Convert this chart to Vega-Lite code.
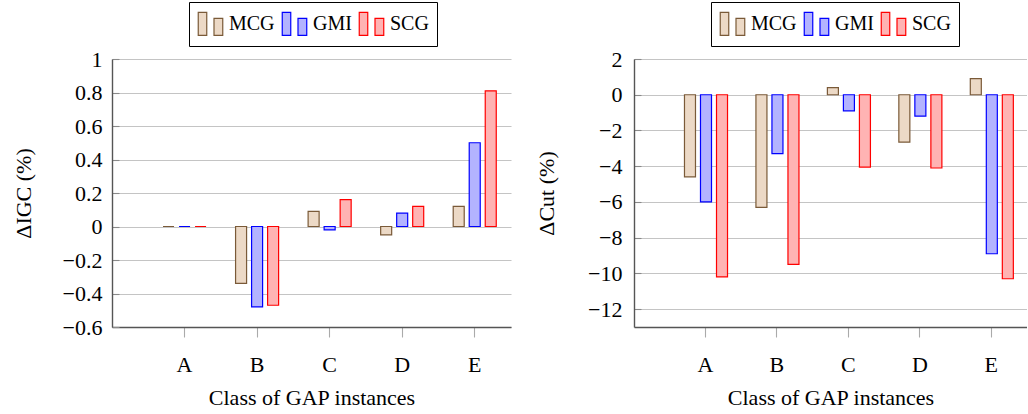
{
  "$schema": "https://vega.github.io/schema/vega-lite/v6.json",
  "autosize": {"type": "pad"},
  "padding": {"left": 12, "top": 1, "right": 0, "bottom": 5},
  "background": "white",
  "spacing": 123,
  "bounds": "flush",
  "datasets": {
    "igc": [
      {"cls": "A", "method": "MCG", "v": 0},
      {"cls": "A", "method": "GMI", "v": 0},
      {"cls": "A", "method": "SCG", "v": 0},
      {"cls": "B", "method": "MCG", "v": -0.34},
      {"cls": "B", "method": "GMI", "v": -0.48},
      {"cls": "B", "method": "SCG", "v": -0.47},
      {"cls": "C", "method": "MCG", "v": 0.09},
      {"cls": "C", "method": "GMI", "v": -0.02},
      {"cls": "C", "method": "SCG", "v": 0.16},
      {"cls": "D", "method": "MCG", "v": -0.05},
      {"cls": "D", "method": "GMI", "v": 0.08},
      {"cls": "D", "method": "SCG", "v": 0.12},
      {"cls": "E", "method": "MCG", "v": 0.12},
      {"cls": "E", "method": "GMI", "v": 0.5},
      {"cls": "E", "method": "SCG", "v": 0.81}
    ],
    "cut": [
      {"cls": "A", "method": "MCG", "v": -4.6},
      {"cls": "A", "method": "GMI", "v": -6.0},
      {"cls": "A", "method": "SCG", "v": -10.2},
      {"cls": "B", "method": "MCG", "v": -6.3},
      {"cls": "B", "method": "GMI", "v": -3.3},
      {"cls": "B", "method": "SCG", "v": -9.5},
      {"cls": "C", "method": "MCG", "v": 0.4},
      {"cls": "C", "method": "GMI", "v": -0.9},
      {"cls": "C", "method": "SCG", "v": -4.05},
      {"cls": "D", "method": "MCG", "v": -2.65},
      {"cls": "D", "method": "GMI", "v": -1.2},
      {"cls": "D", "method": "SCG", "v": -4.1},
      {"cls": "E", "method": "MCG", "v": 0.9},
      {"cls": "E", "method": "GMI", "v": -8.9},
      {"cls": "E", "method": "SCG", "v": -10.3}
    ]
  },
  "config": {
    "font": "Liberation Serif",
    "view": {"stroke": null},
    "style": {
      "guide-label": {"font": "Liberation Serif", "fontSize": 22, "fill": "black"},
      "guide-title": {"font": "Liberation Serif", "fontSize": 22, "fontWeight": "normal", "fill": "black"}
    },
    "legend": {
      "orient": "none",
      "direction": "horizontal",
      "title": null,
      "strokeColor": "black",
      "padding": 8,
      "symbolType": "M-0.98,-0.92H-0.3V0.92H-0.98ZM0.28,-0.44H0.98V0.92H0.28Z",
      "symbolSize": 625,
      "symbolStrokeWidth": 1.2,
      "labelFont": "Liberation Serif",
      "labelFontSize": 20,
      "labelColor": "black",
      "labelOffset": 5,
      "columnPadding": 4
    }
  },
  "hconcat": [
    {
      "width": 399,
      "height": 268,
      "data": {"name": "igc"},
      "mark": {"type": "bar", "strokeWidth": 1.2},
      "encoding": {
        "x": {
          "field": "cls", "type": "nominal",
          "scale": {"domain": ["A", "B", "C", "D", "E"], "paddingInner": 0, "paddingOuter": 0.25, "align": 1},
          "axis": {"title": "Class of GAP instances", "grid": false, "labelAngle": 0, "labelFont": "Liberation Serif", "labelFontSize": 22, "labelColor": "black", "titleFont": "Liberation Serif", "titleFontSize": 22, "titleFontWeight": "normal", "titleColor": "black", "domainColor": "#555555", "domainWidth": 1.4, "tickColor": "#aaaaaa", "tickSize": 10, "tickWidth": 1.1, "labelPadding": 17, "titlePadding": 12}
        },
        "xOffset": {
          "field": "method", "type": "nominal",
          "scale": {"domain": ["MCG", "GMI", "SCG"], "paddingInner": 0.3125, "paddingOuter": 0.921}
        },
        "y": {
          "field": "v", "type": "quantitative",
          "scale": {"domain": [-0.6, 1], "nice": false},
          "axis": {"title": "ΔIGC (%)", "values": [-0.6, -0.4, -0.2, 0, 0.2, 0.4, 0.6, 0.8, 1], "format": ".1~f", "grid": true, "gridColor": "#c4c4c4", "gridWidth": 1.1, "ticks": true, "tickSize": -7, "tickColor": "#8a8a8a", "tickWidth": 1.1, "labelPadding": 17, "titlePadding": 27, "labelFont": "Liberation Serif", "labelFontSize": 22, "labelColor": "black", "titleFont": "Liberation Serif", "titleFontSize": 22, "titleFontWeight": "normal", "titleColor": "black", "domainColor": "#555555", "domainWidth": 1.4}
        },
        "fill": {
          "field": "method", "type": "nominal",
          "scale": {"domain": ["MCG", "GMI", "SCG"], "range": ["#ecd9c6", "#b3b3ff", "#ffb3b3"]},
          "legend": {"legendX": 77, "legendY": -57}
        },
        "stroke": {
          "field": "method", "type": "nominal",
          "scale": {"domain": ["MCG", "GMI", "SCG"], "range": ["#7a5a38", "#0000ff", "#ff0000"]},
          "legend": {"legendX": 77, "legendY": -57}
        }
      }
    },
    {
      "width": 393,
      "height": 268,
      "data": {"name": "cut"},
      "mark": {"type": "bar", "strokeWidth": 1.2},
      "encoding": {
        "x": {
          "field": "cls", "type": "nominal",
          "scale": {"domain": ["A", "B", "C", "D", "E"], "paddingInner": 0, "paddingOuter": 0.25, "align": 1},
          "axis": {"title": "Class of GAP instances", "grid": false, "labelAngle": 0, "labelFont": "Liberation Serif", "labelFontSize": 22, "labelColor": "black", "titleFont": "Liberation Serif", "titleFontSize": 22, "titleFontWeight": "normal", "titleColor": "black", "domainColor": "#555555", "domainWidth": 1.4, "tickColor": "#aaaaaa", "tickSize": 10, "tickWidth": 1.1, "labelPadding": 17, "titlePadding": 12}
        },
        "xOffset": {
          "field": "method", "type": "nominal",
          "scale": {"domain": ["MCG", "GMI", "SCG"], "paddingInner": 0.3125, "paddingOuter": 0.921}
        },
        "y": {
          "field": "v", "type": "quantitative",
          "scale": {"domain": [-13, 2], "nice": false},
          "axis": {"title": "ΔCut (%)", "values": [-12, -10, -8, -6, -4, -2, 0, 2], "grid": true, "gridColor": "#c4c4c4", "gridWidth": 1.1, "ticks": true, "tickSize": -7, "tickColor": "#8a8a8a", "tickWidth": 1.1, "labelPadding": 19, "titlePadding": 29, "labelFont": "Liberation Serif", "labelFontSize": 22, "labelColor": "black", "titleFont": "Liberation Serif", "titleFontSize": 22, "titleFontWeight": "normal", "titleColor": "black", "domainColor": "#555555", "domainWidth": 1.4}
        },
        "fill": {
          "field": "method", "type": "nominal",
          "scale": {"domain": ["MCG", "GMI", "SCG"], "range": ["#ecd9c6", "#b3b3ff", "#ffb3b3"]},
          "legend": {"legendX": 77, "legendY": -57}
        },
        "stroke": {
          "field": "method", "type": "nominal",
          "scale": {"domain": ["MCG", "GMI", "SCG"], "range": ["#7a5a38", "#0000ff", "#ff0000"]},
          "legend": {"legendX": 77, "legendY": -57}
        }
      }
    }
  ],
  "resolve": {"scale": {"x": "independent", "y": "independent", "fill": "independent", "stroke": "independent"}, "legend": {"fill": "independent", "stroke": "independent"}}
}
